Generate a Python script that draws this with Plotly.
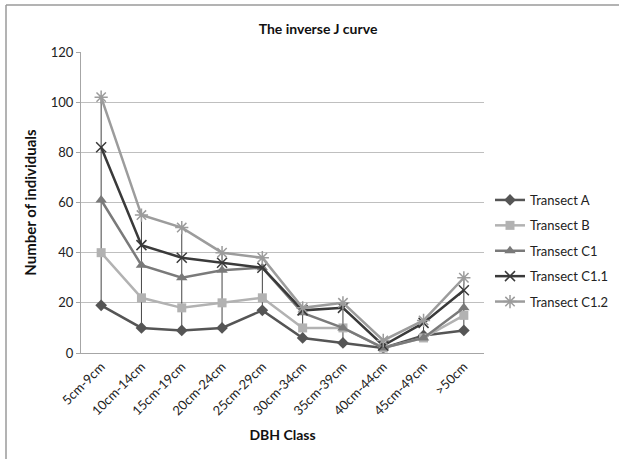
import plotly.graph_objects as go
import numpy as np

categories = ["5cm-9cm", "10cm-14cm", "15cm-19cm", "20cm-24cm", "25cm-29cm",
              "30cm-34cm", "35cm-39cm", "40cm-44cm", "45cm-49cm", ">50cm"]
transect_a = [19, 10, 9, 10, 17, 6, 4, 2, 7, 9]
transect_b = [40, 22, 18, 20, 22, 10, 10, 2, 6, 15]
transect_c1 = [61, 35, 30, 33, 34, 16, 10, 2, 6, 18]
transect_c11 = [82, 43, 38, 36, 34, 17, 18, 3, 12, 25]
transect_c12 = [102, 55, 50, 40, 38, 18, 20, 5, 13, 30]
series_names = ["Transect A", "Transect B", "Transect C1", "Transect C1.1", "Transect C1.2"]
y_ticks = [0, 20, 40, 60, 80, 100, 120]

series = [transect_a, transect_b, transect_c1, transect_c11, transect_c12]
colors = ["#555555", "#b2b2b2", "#7a7a7a", "#3a3a3a", "#9c9c9c"]
markers = [
    dict(symbol="diamond", size=9),
    dict(symbol="square", size=9),
    dict(symbol="triangle-up", size=10),
    dict(symbol="x-thin-open", size=10, line=dict(width=1.5)),
    dict(symbol="asterisk-open", size=11, line=dict(width=1.5)),
]

FONT = "Lato, 'Liberation Sans', sans-serif"

fig = go.Figure()

# High-low lines computed from the series
arr = np.array(series)
hi = arr.max(axis=0)
lo = arr.min(axis=0)
hx, hy = [], []
for c, h, l in zip(categories, hi, lo):
    hx += [c, c, None]
    hy += [float(l), float(h), None]
fig.add_trace(go.Scatter(x=hx, y=hy, mode="lines", line=dict(color="#444444", width=1),
                         showlegend=False, hoverinfo="skip"))

for i, (name, vals, col, mk) in enumerate(zip(series_names, series, colors, markers)):
    m = dict(mk)
    m["color"] = col
    if "line" in m:
        m["line"] = dict(m["line"], color=col)
    fig.add_trace(go.Scatter(x=categories, y=vals, name=name, mode="lines+markers",
                             line=dict(color=col, width=2.5), marker=m,
                             legendgroup=name))

L, R, T, B = 81, 135, 52, 106
W, H = 619, 459
pw, ph = W - L - R, H - T - B

def px2x(p):
    return (p - L) / pw

def py2y(p):
    return (H - B - p) / ph

fig.update_layout(
    template="none",
    width=W, height=H,
    margin=dict(l=L, r=R, t=T, b=B, autoexpand=False),
    paper_bgcolor="white", plot_bgcolor="white",
    font=dict(family=FONT, size=12, color="#222222"),
    title=dict(text="<b>The inverse J curve</b>", x=318 / W, xref="container",
               xanchor="center", y=1 - 29 / H, yref="container", yanchor="middle",
               font=dict(size=14, family=FONT, color="#111111")),
    showlegend=True,
    legend=dict(x=490 / W, y=1 - 185 / H, xref="container", yref="container",
                xanchor="left", yanchor="top",
                font=dict(size=13, family=FONT, color="#222222"),
                tracegroupgap=5.5, traceorder="grouped",
                bgcolor="rgba(0,0,0,0)", borderwidth=0, itemwidth=30),
    xaxis=dict(
        type="category", categoryorder="array", categoryarray=categories,
        tickangle=-45, showgrid=False, showline=True, linecolor="#a6a6a6", linewidth=1,
        ticks="", tickfont=dict(size=13, family=FONT, color="#222222"),
        title=dict(text="<b>DBH Class</b>", font=dict(size=14, family=FONT, color="#111111"),
                   standoff=12),
        range=[-0.5, len(categories) - 0.5], zeroline=False, automargin=False,
    ),
    yaxis=dict(
        range=[0, 120], tickvals=y_ticks, showgrid=True, gridcolor="#bfbfbf", gridwidth=1,
        showline=True, linecolor="#a6a6a6", linewidth=1, ticks="outside", ticklen=4,
        tickcolor="#a6a6a6", tickfont=dict(size=13, family=FONT, color="#222222"),
        title=dict(text="<b>Number of individuals</b>",
                   font=dict(size=15, family=FONT, color="#111111"), standoff=10),
        zeroline=False, automargin=False,
    ),
    shapes=[
        dict(type="line", xref="paper", yref="paper", x0=px2x(6), x1=px2x(6),
             y0=py2y(5), y1=py2y(470), line=dict(color="#9a9a9a", width=1.5)),
        dict(type="line", xref="paper", yref="paper", x0=px2x(6), x1=px2x(619),
             y0=py2y(5), y1=py2y(5), line=dict(color="#9a9a9a", width=1.5)),
    ],
)

fig.write_html("out.html", config={"displayModeBar": False},
               post_script="document.body.style.margin='0';document.body.style.overflow='hidden';")
